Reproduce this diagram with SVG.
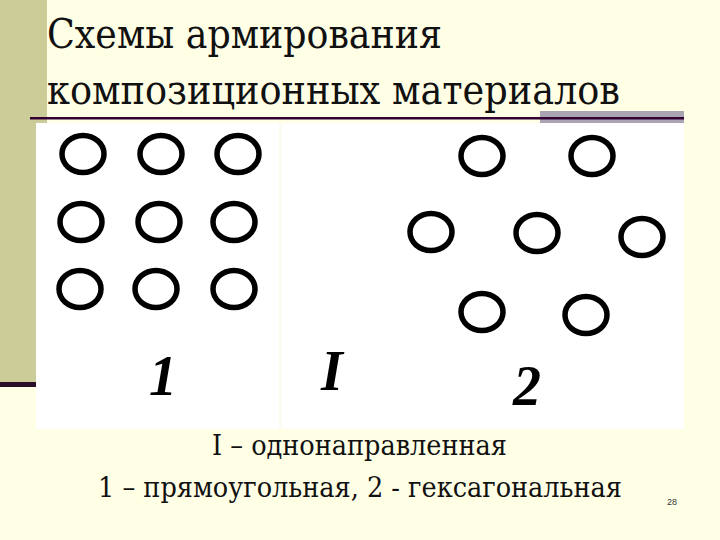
<svg xmlns="http://www.w3.org/2000/svg" width="720" height="540" viewBox="0 0 720 540">
  <style>
    .title { font-family: "DejaVu Serif Condensed", "DejaVu Serif", "Liberation Serif", serif; font-size: 41px; fill: #111111; }
    .caption { font-family: "DejaVu Serif Condensed", "DejaVu Serif", "Liberation Serif", serif; font-size: 27px; fill: #111111; }
    .label { font-family: "Liberation Serif", "DejaVu Serif", serif; font-style: italic; font-weight: bold; font-size: 56px; fill: #000000; }
    .fiber { fill: none; stroke: #000000; stroke-width: 5.5; }
    .pagenum { font-family: "Liberation Sans", Arial, sans-serif; font-size: 9px; fill: #333333; }
  </style>
  <defs>
    <ellipse id="f" cx="0" cy="0" rx="21" ry="18.5" class="fiber"/>
  </defs>

  <!-- slide background -->
  <rect x="0" y="0" width="720" height="540" fill="#FFFFE6"/>
  <rect id="sidebar" x="0" y="0" width="47" height="384" fill="#CCCC99"/>
  <rect x="0" y="382" width="36" height="5" fill="#2A0F2A"/>

  <!-- title -->
  <g id="title">
    <text class="title" x="47" y="48" textLength="395" lengthAdjust="spacingAndGlyphs">Схемы армирования</text>
    <text class="title" x="47" y="104" textLength="573" lengthAdjust="spacingAndGlyphs">композиционных материалов</text>
  </g>
  <rect x="540" y="111" width="144" height="12" fill="#AAA3B2"/>
  <rect x="30" y="117" width="654" height="2.5" fill="#330033"/>

  <!-- picture panel -->
  <rect id="panel" x="36" y="123" width="648" height="306" fill="#FFFFFF"/>
  <rect x="279" y="123" width="3" height="306" fill="#FBFBF2"/>

  <!-- scheme 1: rectangular -->
  <g id="scheme1">
    <use href="#f" x="83" y="154"/>
    <use href="#f" x="161" y="154"/>
    <use href="#f" x="238" y="154"/>
    <use href="#f" x="81" y="222"/>
    <use href="#f" x="159" y="222"/>
    <use href="#f" x="234" y="222"/>
    <use href="#f" x="80" y="289"/>
    <use href="#f" x="156" y="289"/>
    <use href="#f" x="234" y="289"/>
    <text class="label" x="163" y="395" text-anchor="middle">1</text>
  </g>

  <!-- scheme 2: hexagonal -->
  <g id="scheme2">
    <use href="#f" x="482" y="156"/>
    <use href="#f" x="592" y="156"/>
    <use href="#f" x="431" y="232"/>
    <use href="#f" x="537" y="233"/>
    <use href="#f" x="642" y="237"/>
    <use href="#f" x="482" y="312"/>
    <use href="#f" x="586" y="315"/>
    <text class="label" x="332" y="390" text-anchor="middle" font-size="62">I</text>
    <text class="label" x="527" y="405" text-anchor="middle">2</text>
  </g>

  <!-- captions -->
  <g id="captions">
    <text class="caption" x="212" y="455" textLength="295" lengthAdjust="spacingAndGlyphs">I – однонаправленная</text>
    <text class="caption" x="98" y="497" textLength="524" lengthAdjust="spacingAndGlyphs">1 – прямоугольная,  2 - гексагональная</text>
  </g>
  <text class="pagenum" x="667" y="505">28</text>
</svg>
